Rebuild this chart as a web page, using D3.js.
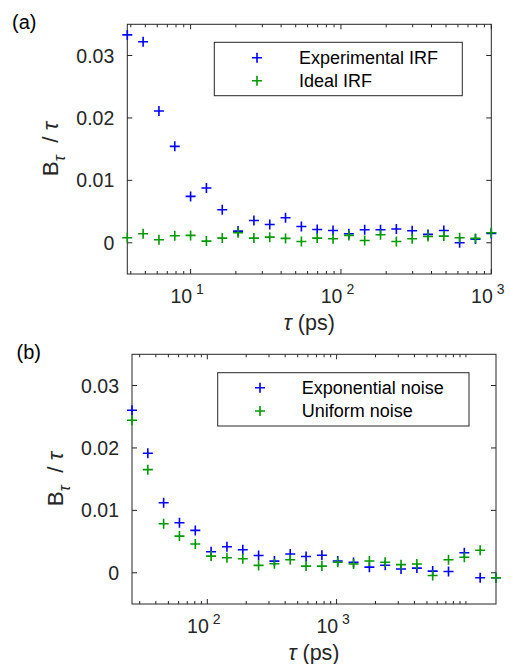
<!DOCTYPE html>
<html>
<head>
<meta charset="utf-8">
<script src="https://cdn.jsdelivr.net/npm/d3@7"></script>
<style>
  html, body { margin: 0; padding: 0; background: #fff; }
  svg { display: block; font-family: "Liberation Sans", Arial, Helvetica, sans-serif; }
</style>
</head>
<body>
<svg id="chart" width="511" height="664"></svg>
<script>
// ---------- data ----------
const tauA = [3.793, 4.833, 6.158, 7.847, 10.0, 12.74, 16.24, 20.69, 26.37, 33.6, 42.81, 54.56,
              69.52, 88.59, 112.9, 143.8, 183.3, 233.6, 297.6, 379.3, 483.3, 615.8, 784.8, 1000];
const expIRF = [0.0333, 0.0322, 0.0211, 0.01545, 0.00743, 0.00877, 0.0053, 0.00187, 0.00358, 0.00294,
                0.0040, 0.00262, 0.00214, 0.00198, 0.00144, 0.00209, 0.00209, 0.0022, 0.00193, 0.00134,
                0.00198, 0.0000, 0.00059, 0.0015];
const idealIRF = [0.0008, 0.00144, 0.00048, 0.00112, 0.00118, 0.00027, 0.00075, 0.0016, 0.00075, 0.0009,
                  0.0007, 0.0002, 0.00075, 0.00064, 0.00118, 0.00037, 0.00128, 0.0002, 0.00064, 0.001,
                  0.00107, 0.0008, 0.0007, 0.0016];

const tauB = [26.16, 34.67, 45.95, 60.9, 80.76, 107.0, 141.9, 188.1, 249.3, 330.5, 438.0, 580.6,
              769.6, 1020, 1352, 1793, 2376, 3150, 4176, 5535, 7337, 9725, 12890, 17090];
const expNoise = [0.02604, 0.01914, 0.01123, 0.00802, 0.00679, 0.00337, 0.00417, 0.00369, 0.00278, 0.00187,
                  0.0030, 0.0026, 0.0028, 0.0019, 0.00166, 0.0009, 0.0012, 0.0006, 0.00075, 0.00027,
                  0.0002, 0.0032, -0.0008, -0.0008];
const uniNoise = [0.02444, 0.01652, 0.00786, 0.00588, 0.0046, 0.00267, 0.0024, 0.00225, 0.00118, 0.00144,
                  0.0021, 0.00107, 0.00107, 0.0017, 0.0014, 0.0019, 0.0017, 0.0013, 0.0014, -0.00043,
                  0.0021, 0.0025, 0.0036, -0.0008];

const yTicks = [0, 0.01, 0.02, 0.03];
const yTickLabels = ["0", "0.01", "0.02", "0.03"];
const xMajorA = [10, 100, 1000];
const xMajorB = [100, 1000];
const seriesNamesA = ["Experimental IRF", "Ideal IRF"];
const seriesNamesB = ["Exponential noise", "Uniform noise"];

// ---------- styling ----------
const AX = "#262626";
const BLUE = "#0000ff";
const GREEN = "#009a00";
const svg = d3.select("#chart");

function minorTicks(domain) {
  const out = [];
  const lo = Math.floor(Math.log10(domain[0])), hi = Math.ceil(Math.log10(domain[1]));
  for (let e = lo; e <= hi; e++) {
    for (let m = 1; m <= 9; m++) {
      const v = m * Math.pow(10, e);
      if (v >= domain[0] * 0.9999 && v <= domain[1] * 1.0001) out.push(v);
    }
  }
  return out;
}

function panel(cfg) {
  const { left, right, top, bottom, tau, s1, s2, names, xMajor, xDomain, label, legend } = cfg;
  const g = svg.append("g");
  const x = d3.scaleLog().domain(xDomain).range([left, right]);
  const y = d3.scaleLinear().domain([-0.005, 0.035]).range([bottom, top]);

  // ticks on all sides (inward)
  const allX = minorTicks(xDomain);
  const isMajor = v => xMajor.some(m => Math.abs(m - v) / m < 1e-6);
  allX.forEach(v => {
    const len = isMajor(v) ? 5 : 3;
    const px = x(v);
    g.append("line").attr("x1", px).attr("x2", px).attr("y1", bottom).attr("y2", bottom - len)
      .attr("stroke", AX).attr("stroke-width", 1);
    g.append("line").attr("x1", px).attr("x2", px).attr("y1", top).attr("y2", top + len)
      .attr("stroke", AX).attr("stroke-width", 1);
  });
  yTicks.forEach(v => {
    const py = y(v);
    g.append("line").attr("x1", left).attr("x2", left + 5).attr("y1", py).attr("y2", py)
      .attr("stroke", AX).attr("stroke-width", 1);
    g.append("line").attr("x1", right).attr("x2", right - 5).attr("y1", py).attr("y2", py)
      .attr("stroke", AX).attr("stroke-width", 1);
  });

  // box
  g.append("rect").attr("x", left).attr("y", top).attr("width", right - left).attr("height", bottom - top)
    .attr("fill", "none").attr("stroke", AX).attr("stroke-width", 1);

  // y tick labels
  yTicks.forEach((v, i) => {
    g.append("text").attr("x", left - 13).attr("y", y(v)).attr("dy", "0.36em")
      .attr("text-anchor", "end").attr("font-size", 19.5).attr("fill", AX).text(yTickLabels[i]);
  });

  // x tick labels 10^n
  xMajor.forEach(v => {
    const px = x(v);
    const e = Math.round(Math.log10(v));
    g.append("text").attr("x", px + 1.5).attr("y", bottom + 29).attr("text-anchor", "end")
      .attr("font-size", 19.5).attr("fill", AX).text("10");
    g.append("text").attr("x", px + 5.5).attr("y", bottom + 20).attr("text-anchor", "start")
      .attr("font-size", 14).attr("fill", AX).text(String(e));
  });

  // axis labels
  const xl = g.append("text").attr("x", (left + right) / 2).attr("y", bottom + 56)
    .attr("text-anchor", "middle").attr("font-size", 21.5).attr("fill", AX);
  xl.append("tspan").attr("font-style", "italic").text("τ");
  xl.append("tspan").text(" (ps)");

  const cy = (top + bottom) / 2;
  const yl = g.append("text").attr("transform", `translate(${left - 69},${cy}) rotate(-90)`)
    .attr("text-anchor", "middle").attr("font-size", 22.5).attr("fill", AX)
    .attr("xml:space", "preserve");
  yl.append("tspan").text("B");
  yl.append("tspan").attr("font-size", 16).attr("font-style", "italic").attr("dy", 7).text("τ");
  yl.append("tspan").attr("dy", -7).text("  / ");
  yl.append("tspan").attr("font-style", "italic").text("τ");

  // panel label
  g.append("text").attr("x", label.x).attr("y", label.y).attr("font-size", 20).attr("fill", "#000").text(label.t);

  // markers
  function plus(sel, color) {
    sel.append("path")
      .attr("d", "M-5,0H5M0,-5V5")
      .attr("stroke", color).attr("stroke-width", 1.6).attr("fill", "none");
  }
  [[s1, BLUE], [s2, GREEN]].forEach(([vals, color]) => {
    g.append("g").selectAll("g").data(vals).join("g")
      .attr("transform", (d, i) => `translate(${x(tau[i])},${y(d)})`)
      .call(sel => plus(sel, color));
  });

  // legend
  g.append("rect").attr("x", legend.x0).attr("y", legend.y0)
    .attr("width", legend.x1 - legend.x0).attr("height", legend.y1 - legend.y0)
    .attr("fill", "#fff").attr("stroke", AX).attr("stroke-width", 1);
  [[names[0], BLUE, legend.r1], [names[1], GREEN, legend.r2]].forEach(([name, color, ry]) => {
    g.append("g").attr("transform", `translate(${legend.mx},${ry})`).call(sel => plus(sel, color));
    g.append("text").attr("x", legend.tx).attr("y", ry).attr("dy", "0.36em")
      .attr("font-size", 18).attr("fill", "#000").text(name);
  });
}

panel({
  left: 127.3, right: 491.3, top: 24.3, bottom: 274,
  tau: tauA, s1: expIRF, s2: idealIRF, names: seriesNamesA,
  xMajor: xMajorA, xDomain: [tauA[0], tauA[tauA.length - 1]],
  label: { x: 12, y: 29, t: "(a)" },
  legend: { x0: 214.3, x1: 462.3, y0: 42.3, y1: 95.7, mx: 257, tx: 299, r1: 57.7, r2: 80.7 }
});

panel({
  left: 132, right: 496, top: 354.3, bottom: 604,
  tau: tauB, s1: expNoise, s2: uniNoise, names: seriesNamesB,
  xMajor: xMajorB, xDomain: [tauB[0], tauB[tauB.length - 1]],
  label: { x: 16.5, y: 359, t: "(b)" },
  legend: { x0: 217.7, x1: 469, y0: 372.7, y1: 426, mx: 260, tx: 301.7, r1: 387.7, r2: 411 }
});
</script>
</body>
</html>
